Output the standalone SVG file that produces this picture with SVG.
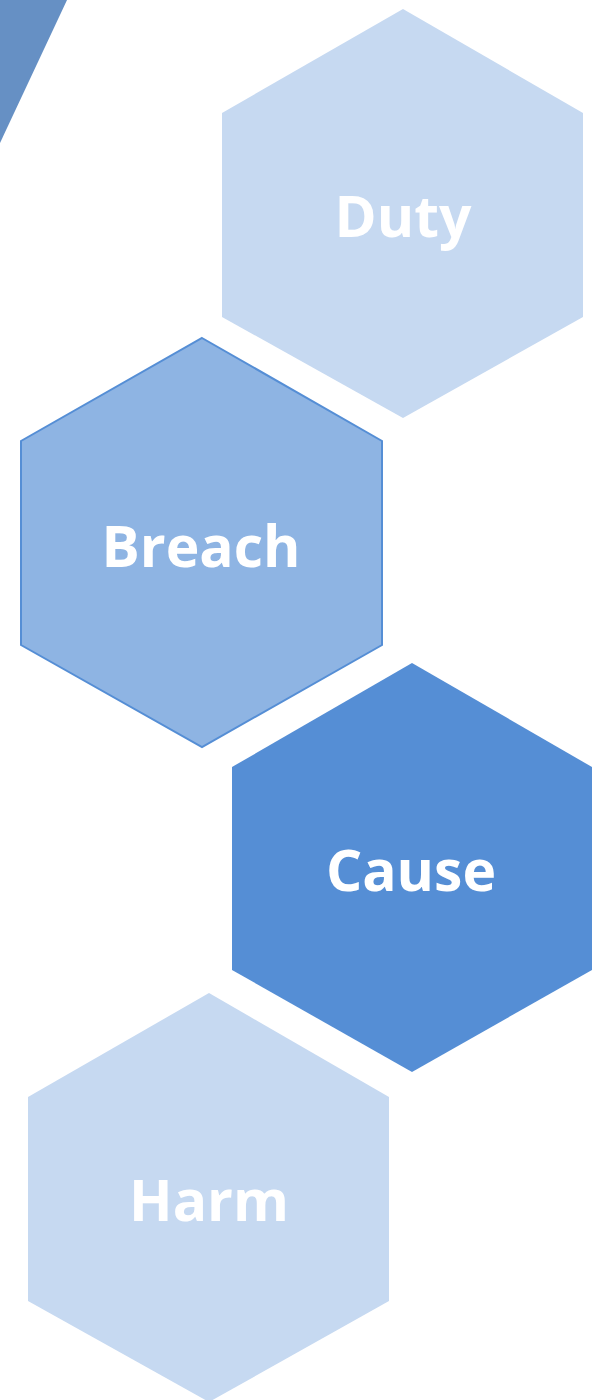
<svg xmlns="http://www.w3.org/2000/svg" width="608" height="1400" viewBox="0 0 608 1400">
<style>
.lbl{font-family:"Open Sans","Liberation Sans",sans-serif;font-weight:bold;font-size:57px;fill:#FFFFFF;text-anchor:middle}
.light{fill:#C6D9F1}
</style>
<rect width="608" height="1400" fill="#FFFFFF"/>
<polygon points="0,0 67,0 0,143" fill="#6690C4"/>
<g id="duty">
<polygon class="light" points="403,9 583,113 583,317 403,418 222,317 222,113"/>
<text class="lbl" x="403" y="237">Duty</text>
</g>
<g id="breach">
<polygon points="202,338 382,441 382,645 202,747 21,645 21,441" fill="#8EB4E3" stroke="#558ED5" stroke-width="2"/>
<text class="lbl" x="201" y="567">Breach</text>
</g>
<g id="cause">
<polygon points="412,663 592,767 592,970 412,1072 232,970 232,767" fill="#558ED5"/>
<text class="lbl" x="411" y="891">Cause</text>
</g>
<g id="harm">
<polygon class="light" points="209,993 389,1097 389,1301 209,1402 28,1301 28,1097"/>
<text class="lbl" x="209" y="1221">Harm</text>
</g>
<g id="connectors"></g>
</svg>
